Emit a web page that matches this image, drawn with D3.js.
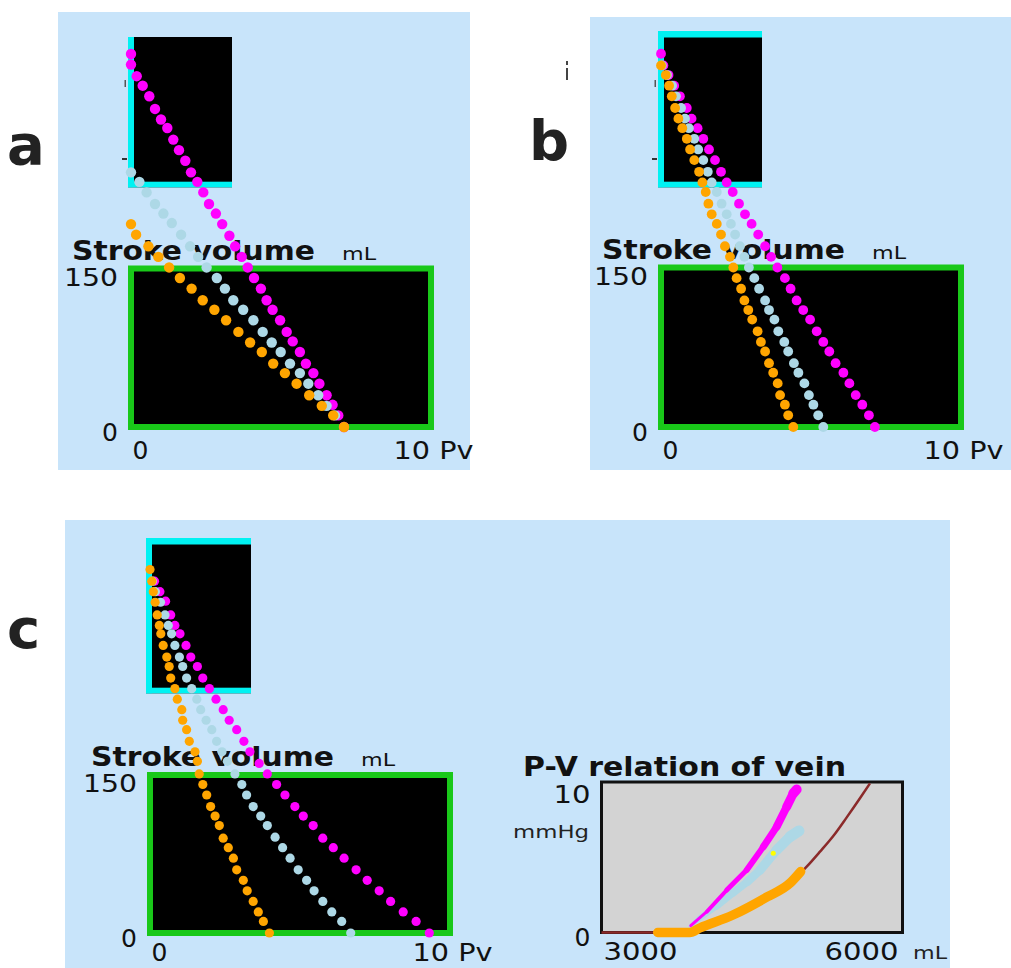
<!DOCTYPE html>
<html>
<head>
<meta charset="utf-8">
<script src="https://cdn.jsdelivr.net/npm/d3@7"></script>
<style>
  body { margin: 0; background: #fff; }
  svg { display: block; }
  text { font-family: "DejaVu Sans", sans-serif; }
</style>
</head>
<body>
<svg id="chart" width="1011" height="968"></svg>
<script>
/* global d3 */

// ---- data ----
const svTicks = [0, 150];
const pvTicks = [0, 10];

// panel a
const aMagentaPv = [0, 0, 0.19, 0.39, 0.61, 0.80, 1.00, 1.21, 1.41, 1.60, 1.81, 2.00, 2.21, 2.41, 2.60, 2.83, 3.04, 3.28, 3.47, 3.69, 3.89, 4.10, 4.33, 4.52, 4.72, 4.97, 5.19, 5.39, 5.63, 5.83, 6.08, 6.28, 6.52, 6.72, 6.91, 7.10];
const aMagentaSv = [353, 343, 332, 323, 313, 301, 291, 283, 272, 262, 252, 241, 232, 222, 211, 202, 192, 181, 171, 161, 151, 141, 131, 120, 111, 101, 90, 81, 71, 60, 51, 41, 30, 21, 11, 0];
const aBluePv = [0, 0.28, 0.52, 0.80, 1.08, 1.36, 1.67, 1.97, 2.24, 2.52, 2.86, 3.13, 3.41, 3.74, 4.08, 4.39, 4.69, 4.99, 5.30, 5.63, 5.91, 6.24, 6.52, 6.80];
const aBlueSv = [241, 232, 222, 211, 202, 193, 182, 171, 161, 151, 141, 131, 120, 111, 101, 90, 80, 71, 60, 51, 41, 30, 20, 11];
const aOrangePv = [0, 0.17, 0.58, 0.91, 1.27, 1.63, 2.02, 2.39, 2.78, 3.17, 3.58, 3.97, 4.36, 4.74, 5.13, 5.52, 5.94, 6.36, 6.74, 7.10];
const aOrangeSv = [192, 182, 171, 161, 151, 141, 131, 120, 111, 101, 90, 80, 71, 60, 51, 41, 30, 20, 11, 0];

// panel b
const bMagentaPv = [0, 0.08, 0.25, 0.44, 0.63, 0.86, 1.02, 1.22, 1.41, 1.60, 1.80, 2.00, 2.19, 2.39, 2.60, 2.80, 3.02, 3.24, 3.47, 3.67, 3.88, 4.13, 4.32, 4.52, 4.74, 4.97, 5.19, 5.41, 5.61, 5.82, 6.08, 6.28, 6.49, 6.71, 6.93, 7.13];
const bMagentaSv = [351, 340, 331, 321, 311, 300, 290, 281, 271, 261, 251, 240, 230, 221, 210, 200, 191, 181, 170, 160, 150, 140, 130, 119, 110, 101, 90, 80, 71, 60, 51, 41, 30, 21, 11, 0];
const bBluePv = [0.03, 0.20, 0.37, 0.50, 0.67, 0.80, 0.93, 1.11, 1.24, 1.41, 1.56, 1.69, 1.86, 2.02, 2.19, 2.33, 2.47, 2.63, 2.78, 2.93, 3.11, 3.27, 3.47, 3.60, 3.78, 3.91, 4.11, 4.24, 4.43, 4.58, 4.78, 4.93, 5.08, 5.24, 5.41];
const bBlueSv = [340, 331, 321, 311, 300, 290, 281, 271, 261, 251, 240, 230, 221, 210, 200, 191, 181, 170, 160, 150, 140, 130, 119, 110, 101, 90, 80, 71, 60, 51, 41, 30, 21, 11, 0];
const bOrangePv = [0, 0.16, 0.27, 0.36, 0.47, 0.58, 0.71, 0.86, 0.97, 1.11, 1.27, 1.38, 1.49, 1.58, 1.69, 1.86, 2.00, 2.13, 2.30, 2.41, 2.52, 2.67, 2.78, 2.91, 3.04, 3.22, 3.33, 3.47, 3.60, 3.74, 3.89, 3.97, 4.13, 4.24, 4.41];
const bOrangeSv = [340, 331, 321, 311, 300, 290, 281, 271, 261, 251, 240, 230, 221, 210, 200, 191, 181, 170, 160, 150, 140, 130, 119, 110, 101, 90, 80, 71, 60, 51, 41, 30, 21, 11, 0];

// panel c
const cMagentaPv = [0.15, 0.33, 0.52, 0.69, 0.83, 1.00, 1.20, 1.36, 1.58, 1.76, 1.98, 2.20, 2.44, 2.64, 2.89, 3.13, 3.33, 3.64, 3.91, 4.22, 4.50, 4.83, 5.11, 5.44, 5.76, 6.11, 6.47, 6.87, 7.24, 7.64, 8.02, 8.44, 8.87, 9.31];
const cMagentaSv = [334, 324, 315, 302, 292, 284, 273, 262, 253, 242, 232, 222, 212, 202, 193, 182, 172, 161, 151, 141, 131, 120, 111, 102, 90, 81, 71, 60, 50, 40, 30, 20, 11, 0];
const cBluePv = [0.08, 0.18, 0.35, 0.50, 0.61, 0.72, 0.83, 0.98, 1.09, 1.22, 1.39, 1.56, 1.69, 1.87, 2.06, 2.22, 2.40, 2.58, 2.83, 3.06, 3.22, 3.44, 3.69, 3.91, 4.17, 4.42, 4.67, 4.94, 5.22, 5.47, 5.76, 6.06, 6.39, 6.69];
const cBlueSv = [334, 324, 314, 302, 292, 284, 273, 262, 253, 242, 232, 222, 212, 202, 193, 182, 172, 163, 151, 141, 131, 120, 111, 102, 91, 81, 71, 60, 50, 40, 30, 20, 11, 0];
const cOrangePv = [0, 0.06, 0.11, 0.17, 0.24, 0.31, 0.36, 0.44, 0.56, 0.64, 0.69, 0.83, 0.91, 1.06, 1.09, 1.22, 1.31, 1.50, 1.58, 1.64, 1.76, 1.89, 2.02, 2.17, 2.31, 2.44, 2.61, 2.78, 2.89, 3.11, 3.24, 3.44, 3.61, 3.78, 3.98];
const cOrangeSv = [345, 334, 324, 314, 302, 292, 284, 273, 262, 253, 242, 232, 222, 212, 202, 193, 182, 172, 163, 151, 141, 131, 120, 111, 102, 90, 81, 71, 60, 50, 40, 30, 20, 11, 0];

// P-V relation of vein (panel c, right)
const veinVTicks = [3000, 6000];
const veinPTicks = [0, 10];
const brownV = [3000, 3880, 3980, 4310, 4650, 4880, 5045, 5178, 5310, 5444, 5576, 5676];
const brownP = [0, 0, 0.3, 1.16, 2.36, 3.29, 4.37, 5.37, 6.41, 7.65, 8.92, 9.91];
const blueV = [3890, 3980, 4150, 4310, 4450, 4580, 4745, 4880, 4968];
const blueP = [0.4, 0.96, 1.75, 2.62, 3.35, 4.15, 5.48, 6.37, 6.75];
const magentaV = [3890, 4049, 4248, 4447, 4613, 4746, 4846, 4912, 4945];
const magentaP = [0.45, 1.38, 2.82, 4.15, 5.70, 7.03, 8.36, 9.25, 9.5];
const orangeV = [3560, 3880, 3980, 4310, 4650, 4880, 4985];
const orangeP = [0, 0, 0.3, 1.16, 2.36, 3.29, 4.05];
const markV = [4712];
const markP = [5.26];

// ---- style ----
const BG = '#c8e4fa';
const GREEN = '#19c819';
const CYAN = '#00f2f2';
const COLORS = { magenta: '#ff00ff', blue: '#add8e6', orange: '#ffa500' };
const INK = '#111';

const svg = d3.select('#chart');

function zip(xs, ys) { return xs.map((v, i) => [v, ys[i]]); }

function addText(g, str, x, y, o = {}) {
  const t = g.append('text')
    .attr('x', x).attr('y', y)
    .attr('font-size', o.size || 25)
    .attr('font-weight', o.weight || 'normal')
    .attr('fill', o.fill || INK)
    .attr('text-anchor', o.anchor || 'start')
    .text(str);
  if (o.family) t.attr('font-family', o.family);
  if (o.len) t.attr('textLength', o.len).attr('lengthAdjust', 'spacingAndGlyphs');
  return t;
}

const panels = [
  {
    letter: 'a', letterPos: [7, 164], bg: [58, 12, 412, 458],
    x0: 131, x10: 431, y0: 427, y150: 268.5, xLabY: 32,
    box: { x: 128, y: 37, w: 104, h: 150.3, top: false }, r: 5.2,
    series: [
      { color: COLORS.magenta, pts: zip(aMagentaPv, aMagentaSv) },
      { color: COLORS.blue, pts: zip(aBluePv, aBlueSv) },
      { color: COLORS.orange, pts: zip(aOrangePv, aOrangeSv) },
    ],
  },
  {
    letter: 'b', letterPos: [529, 160], bg: [590, 17, 421, 453],
    x0: 661, x10: 961, y0: 427, y150: 267.5, xLabY: 32,
    box: { x: 658, y: 31, w: 104, h: 156.3, top: true }, r: 4.9,
    series: [
      { color: COLORS.magenta, pts: zip(bMagentaPv, bMagentaSv) },
      { color: COLORS.blue, pts: zip(bBluePv, bBlueSv) },
      { color: COLORS.orange, pts: zip(bOrangePv, bOrangeSv) },
    ],
  },
  {
    letter: 'c', letterPos: [7, 648], bg: [65, 520, 885, 448],
    x0: 150, x10: 450, y0: 933, y150: 775, xLabY: 28,
    box: { x: 146, y: 538, w: 105, h: 155.3, top: true }, r: 4.6,
    series: [
      { color: COLORS.magenta, pts: zip(cMagentaPv, cMagentaSv) },
      { color: COLORS.blue, pts: zip(cBluePv, cBlueSv) },
      { color: COLORS.orange, pts: zip(cOrangePv, cOrangeSv) },
    ],
  },
];

// backgrounds + panel letters first
panels.forEach((p) => {
  svg.append('rect').attr('x', p.bg[0]).attr('y', p.bg[1])
    .attr('width', p.bg[2]).attr('height', p.bg[3]).attr('fill', BG);
  addText(svg, p.letter, p.letterPos[0], p.letterPos[1],
    { size: 56, weight: 600, family: '"Open Sans", sans-serif', fill: '#222' });
});

function drawStrokePanel(p) {
  const g = svg.append('g');
  const x = d3.scaleLinear().domain([0, 10]).range([p.x0, p.x10]);
  const y = d3.scaleLinear().domain([0, 150]).range([p.y0, p.y150]);

  // the black box with cyan frame (upper small chart)
  const b = p.box;
  g.append('rect').attr('x', b.x).attr('y', b.y).attr('width', b.w).attr('height', b.h).attr('fill', '#000');
  g.append('rect').attr('x', b.x).attr('y', b.y).attr('width', 6).attr('height', b.h).attr('fill', CYAN);
  g.append('rect').attr('x', b.x).attr('y', b.y + b.h - 5.6).attr('width', b.w).attr('height', 5.6).attr('fill', CYAN);
  if (b.top) g.append('rect').attr('x', b.x).attr('y', b.y).attr('width', b.w).attr('height', 6.5).attr('fill', CYAN);
  // left-over tick marks of the small chart
  if (!b.top || p.letter === 'b') {
    g.append('rect').attr('x', b.x - 6).attr('y', 158).attr('width', 5).attr('height', 2).attr('fill', '#333');
    g.append('rect').attr('x', b.x - 3.5).attr('y', 80).attr('width', 1.5).attr('height', 7).attr('fill', '#555');
  }

  // stroke volume plot frame
  g.append('rect')
    .attr('x', x(0)).attr('y', y(150))
    .attr('width', x(10) - x(0)).attr('height', y(0) - y(150))
    .attr('fill', '#000').attr('stroke', GREEN).attr('stroke-width', 6);

  // title + unit
  addText(g, 'Stroke volume', x(0) - 59, y(150) - 9, { size: 27, weight: 'bold', len: 243 });
  addText(g, 'mL', x(0) + 211, y(150) - 9, { size: 18, len: 34 });

  // axes
  const yAx = g.append('g').attr('transform', `translate(${x(0)},0)`)
    .call(d3.axisLeft(y).tickValues(svTicks).tickSize(0).tickPadding(13));
  yAx.select('.domain').remove();
  yAx.attr('font-family', null).attr('font-size', null);
  yAx.selectAll('text')
    .attr('font-size', 25).attr('fill', INK)
    .attr('dy', (d) => (d === 150 ? 16.5 : 13.5))
    .attr('textLength', (d) => (d === 150 ? 54 : null))
    .attr('lengthAdjust', 'spacingAndGlyphs');

  const xAx = g.append('g').attr('transform', `translate(0,${y(0)})`)
    .call(d3.axisBottom(x).tickValues(pvTicks).tickSize(0)
      .tickFormat((d) => (d === 10 ? '10 Pv' : d)));
  xAx.select('.domain').remove();
  xAx.attr('font-family', null).attr('font-size', null);
  xAx.selectAll('text')
    .attr('font-size', 25).attr('fill', INK)
    .attr('y', p.xLabY).attr('dy', 0)
    .attr('text-anchor', 'start')
    .attr('x', (d) => (d === 10 ? -38 : 1))
    .attr('textLength', (d) => (d === 10 ? 80 : null))
    .attr('lengthAdjust', 'spacingAndGlyphs');

  // dots (not clipped: they run above the frame)
  p.series.forEach((s) => {
    g.append('g').selectAll('circle')
      .data(s.pts)
      .join('circle')
      .attr('cx', (d) => x(d[0]))
      .attr('cy', (d) => y(d[1]))
      .attr('r', p.r)
      .attr('fill', s.color);
  });
}

panels.forEach(drawStrokePanel);

// stray glyph at top of panel b
svg.append('rect').attr('x', 566).attr('y', 61).attr('width', 2).attr('height', 4).attr('fill', '#444');
svg.append('rect').attr('x', 566).attr('y', 68).attr('width', 2).attr('height', 12).attr('fill', '#444');

// ---- P-V relation of vein ----
function drawVein() {
  const g = svg.append('g');
  const x = d3.scaleLinear().domain([3000, 6000]).range([601.5, 902.5]);
  const y = d3.scaleLinear().domain([0, 10]).range([932.5, 782]);

  g.append('rect')
    .attr('x', x(3000)).attr('y', y(10))
    .attr('width', x(6000) - x(3000)).attr('height', y(0) - y(10))
    .attr('fill', '#d3d3d3').attr('stroke', INK).attr('stroke-width', 3);

  addText(g, 'P-V relation of vein', 523, 776, { size: 26, weight: 'bold', len: 323 });
  addText(g, 'mmHg', 513, 838, { size: 18, len: 76, fill: '#222' });
  addText(g, 'mL', 913, 959, { size: 18, len: 34, fill: '#222' });

  const yAx = g.append('g').attr('transform', `translate(${x(3000)},0)`)
    .call(d3.axisLeft(y).tickValues(veinPTicks).tickSize(0).tickPadding(11));
  yAx.select('.domain').remove();
  yAx.attr('font-family', null).attr('font-size', null);
  yAx.selectAll('text')
    .attr('font-size', 25).attr('fill', INK)
    .attr('dy', (d) => (d === 10 ? 20 : 12.5))
    .attr('textLength', (d) => (d === 10 ? 37 : null))
    .attr('lengthAdjust', 'spacingAndGlyphs');

  const xAx = g.append('g').attr('transform', `translate(0,${y(0)})`)
    .call(d3.axisBottom(x).tickValues(veinVTicks).tickSize(0).tickFormat(d3.format('d')));
  xAx.select('.domain').remove();
  xAx.attr('font-family', null).attr('font-size', null);
  xAx.selectAll('text')
    .attr('font-size', 25).attr('fill', INK)
    .attr('y', 27).attr('dy', 0)
    .attr('text-anchor', (d) => (d === 3000 ? 'start' : 'end'))
    .attr('x', (d) => (d === 3000 ? 1.5 : -4.5))
    .attr('textLength', 74)
    .attr('lengthAdjust', 'spacingAndGlyphs');

  const line = d3.line().x((d) => x(d[0])).y((d) => y(d[1])).curve(d3.curveMonotoneX);

  g.append('path').attr('d', line(zip(brownV, brownP)))
    .attr('fill', 'none').attr('stroke', '#8b2a2a').attr('stroke-width', 2.5);

  // thick curves drawn as segments that widen along the track
  function taper(pts, color, w0, w1) {
    const w = d3.scaleLinear().domain([0, pts.length - 2]).range([w0, w1]);
    g.append('g').selectAll('line')
      .data(d3.pairs(pts))
      .join('line')
      .attr('x1', (d) => x(d[0][0])).attr('y1', (d) => y(d[0][1]))
      .attr('x2', (d) => x(d[1][0])).attr('y2', (d) => y(d[1][1]))
      .attr('stroke', color)
      .attr('stroke-width', (d, i) => w(i))
      .attr('stroke-linecap', 'round');
  }
  taper(zip(blueV, blueP), COLORS.blue, 5, 11);
  taper(zip(magentaV, magentaP), COLORS.magenta, 3, 10);
  g.append('path').attr('d', line(zip(orangeV, orangeP)))
    .attr('fill', 'none').attr('stroke', COLORS.orange)
    .attr('stroke-width', 9.5).attr('stroke-linecap', 'round').attr('stroke-linejoin', 'round');

  g.selectAll('circle.mark')
    .data(zip(markV, markP))
    .join('circle')
    .attr('class', 'mark')
    .attr('cx', (d) => x(d[0])).attr('cy', (d) => y(d[1]))
    .attr('r', 2.5).attr('fill', '#ffff00');
}

drawVein();
</script>
</body>
</html>
